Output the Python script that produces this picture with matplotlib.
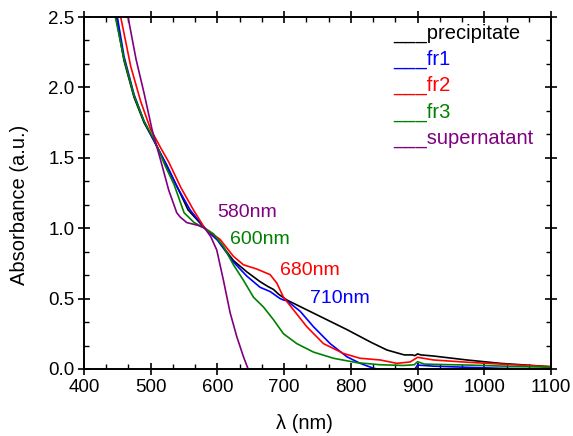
import matplotlib
matplotlib.use('Agg')
import matplotlib.pyplot as plt
from matplotlib.ticker import MultipleLocator, AutoMinorLocator

plt.rcParams['font.family'] = ['Liberation Sans', 'DejaVu Sans']

# absorption spectra, wavelength in nm
wl_prec = [440, 448, 460, 475, 490, 505, 525, 540, 556, 581, 600, 624, 644, 664, 676, 684, 692,
           704, 734, 764, 794, 814, 830, 854, 880, 892, 896, 900, 905, 924, 974, 1024, 1100]
abs_prec = [2.8, 2.5, 2.19, 1.93, 1.75, 1.62, 1.43, 1.29, 1.13, 1.0, 0.92, 0.77, 0.69, 0.62, 0.585, 0.565, 0.53,
            0.49, 0.42, 0.35, 0.28, 0.23, 0.19, 0.135, 0.10, 0.10, 0.095, 0.107, 0.10, 0.092, 0.064, 0.04, 0.016]

wl_fr1 = [440, 450, 460, 475, 490, 505, 525, 540, 559, 581, 600, 624, 644, 664, 679, 694, 699,
          704, 724, 744, 769, 794, 814, 834, 840, 896, 900, 924, 974, 1024, 1100]
abs_fr1 = [2.75, 2.5, 2.22, 1.95, 1.76, 1.62, 1.44, 1.29, 1.13, 1.0, 0.915, 0.76, 0.66, 0.58, 0.55, 0.50, 0.49,
           0.485, 0.41, 0.30, 0.18, 0.087, 0.04, 0.005, 0.0, 0.0, 0.028, 0.02, 0.012, 0.005, 0.0]

wl_fr2 = [440, 455, 470, 485, 500, 507, 515, 527, 545, 564, 581, 604, 624, 639, 659, 679, 689,
          699, 714, 734, 759, 789, 814, 844, 869, 889, 900, 924, 974, 1024, 1100]
abs_fr2 = [2.85, 2.5, 2.15, 1.90, 1.70, 1.64, 1.57, 1.47, 1.29, 1.13, 1.0, 0.92, 0.80, 0.74, 0.71, 0.67, 0.61,
           0.51, 0.42, 0.30, 0.18, 0.11, 0.076, 0.064, 0.04, 0.05, 0.083, 0.064, 0.048, 0.035, 0.016]

wl_fr3 = [440, 447, 460, 475, 490, 505, 522, 535, 550, 565, 581, 594, 609, 624, 639, 654, 669, 684,
          699, 719, 744, 774, 809, 844, 879, 895, 900, 910, 924, 974, 1024, 1100]
abs_fr3 = [2.75, 2.5, 2.2, 1.94, 1.76, 1.63, 1.44, 1.31, 1.11, 1.04, 1.0, 0.96, 0.87, 0.74, 0.63, 0.51, 0.44, 0.35,
           0.25, 0.18, 0.12, 0.076, 0.045, 0.03, 0.025, 0.03, 0.052, 0.035, 0.033, 0.028, 0.021, 0.012]

wl_sup = [455, 466, 478, 490, 502, 515, 527, 539, 544, 554, 571, 581, 590, 599, 609, 619, 629, 639, 646, 650]
abs_sup = [2.9, 2.5, 2.2, 1.96, 1.70, 1.48, 1.27, 1.11, 1.08, 1.04, 1.02, 1.0, 0.94, 0.845, 0.63, 0.40, 0.23,
           0.087, 0.0, -0.03]

series = [
    ('precipitate', wl_prec, abs_prec, 'black'),
    ('fr1', wl_fr1, abs_fr1, 'blue'),
    ('fr2', wl_fr2, abs_fr2, 'red'),
    ('fr3', wl_fr3, abs_fr3, 'green'),
    ('supernatant', wl_sup, abs_sup, 'purple'),
]

# peak annotations: text, x, y, colour
peak_labels = ['580nm', '600nm', '680nm', '710nm']
peak_x = [599, 619, 694, 739]
peak_y = [1.108, 0.923, 0.70, 0.504]
peak_colors = ['purple', 'green', 'red', 'blue']

fig = plt.figure(figsize=(5.73, 4.36), dpi=100)
ax = fig.add_axes([0.1466, 0.1537, 0.815, 0.8073])

for name, x, y, c in series:
    ax.plot(x, y, color=c, lw=1.2)

for t, x, y, c in zip(peak_labels, peak_x, peak_y, peak_colors):
    ax.text(x, y, t, color=c, fontsize=14, ha='left', va='center')

# legend written as text rows with underscores in the series colour
for i, (name, x, y, c) in enumerate(series):
    ypix = 33 + 26.4 * i
    ax.text(0.662, (369 - ypix) / 352, '___' + name, color=c, fontsize=14.5,
            ha='left', va='center', transform=ax.transAxes)

ax.set_xlim(400, 1100)
ax.set_ylim(0, 2.5)
ax.xaxis.set_major_locator(MultipleLocator(100))
ax.yaxis.set_major_locator(MultipleLocator(0.5))
ax.xaxis.set_minor_locator(AutoMinorLocator(3))
ax.yaxis.set_minor_locator(AutoMinorLocator(3))
ax.yaxis.set_major_formatter(matplotlib.ticker.FormatStrFormatter('%.1f'))

ax.tick_params(which='major', direction='inout', length=8, width=1.2, labelsize=13.5,
               top=True, right=True, pad=3)
ax.tick_params(which='minor', direction='in', length=3.5, width=1.0, top=True, right=True)
for s in ax.spines.values():
    s.set_linewidth(1.4)

ax.set_xlabel('λ (nm)', fontsize=14.5)
ax.set_ylabel('Absorbance (a.u.)', fontsize=14.5)
ax.xaxis.set_label_coords(0.473, -0.128)
ax.yaxis.set_label_coords(-0.118, 0.466)

fig.savefig('out.png', dpi=100)
